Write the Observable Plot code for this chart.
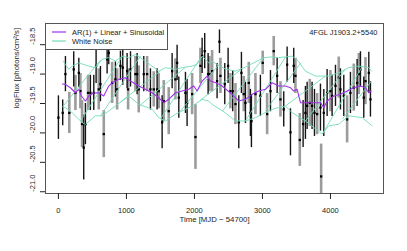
<!DOCTYPE html>
<html><head><meta charset="utf-8">
<script src="https://cdn.jsdelivr.net/npm/d3@7"></script>
<script src="https://cdn.jsdelivr.net/npm/@observablehq/plot@0.6"></script>
<style>html,body{margin:0;padding:0;background:#fff} svg{display:block}</style>
</head><body><div id="chart"></div>
<script>
// ---- data ----
const sourceName = "4FGL J1903.2+5540";
const seriesNames = ["AR(1) + Linear + Sinusoidal", "White Noise"];
const xTicks = [0, 1000, 2000, 3000, 4000];
const yTicks = [-21.0, -20.5, -20.0, -19.5, -19.0, -18.5];

const pointT = [0,63,103,160,225,250,300,323,348,372,397,436,470,520,554,593,618,667,716,740,790,838,863,912,946,1010,1025,1060,1132,1157,1181,1255,1304,1353,1402,1451,1475,1525,1549,1622,1672,1720,1745,1770,1868,1892,1966,2015,2088,2113,2151,2201,2221,2260,2333,2368,2382,2446,2495,2529,2563,2603,2652,2691,2725,2750,2799,2823,2838,2897,2970,3004,3069,3118,3166,3216,3265,3313,3363,3412,3460,3485,3549,3598,3632,3657,3696,3730,3765,3804,3853,3863,3902,3951,4000,4024,4074,4122,4147,4196,4245,4294,4343,4392,4417,4441,4490,4515,4564,4588];
const pointV = [-19.74,-19.66,-19.0,-19.66,-18.92,-19.32,-18.98,-19.29,-19.85,-20.25,-19.85,-19.32,-19.32,-19.32,-18.86,-19.26,-19.17,-20.02,-18.75,-18.64,-19.15,-19.09,-19.26,-18.86,-18.89,-18.95,-19.26,-18.92,-19.0,-19.0,-19.26,-19.0,-19.0,-19.26,-19.26,-19.26,-19.29,-19.82,-19.46,-19.63,-18.95,-19.09,-18.81,-19.4,-19.32,-19.49,-19.34,-20.07,-18.86,-18.69,-18.61,-19.0,-19.0,-18.95,-19.12,-18.45,-19.03,-19.17,-18.86,-19.29,-19.29,-19.51,-19.82,-18.98,-19.34,-19.49,-19.15,-19.66,-19.8,-19.34,-19.37,-18.81,-19.68,-19.29,-18.61,-19.03,-19.43,-19.6,-18.84,-19.99,-18.86,-19.03,-20.12,-19.85,-19.66,-19.54,-19.49,-19.54,-19.66,-19.68,-19.57,-20.74,-19.66,-19.32,-19.29,-19.37,-19.2,-19.06,-19.26,-19.37,-19.77,-19.32,-19.23,-19.15,-19.0,-18.92,-19.4,-19.12,-18.98,-19.43];
const pointErr = [0.37,0.22,0.3,0.35,0.3,0.3,0.25,0.3,0.4,0.55,0.35,0.3,0.3,0.3,0.3,0.35,0.3,0.4,0.25,0.2,0.35,0.3,0.35,0.25,0.3,0.3,0.35,0.3,0.3,0.35,0.4,0.3,0.3,0.35,0.3,0.35,0.3,0.45,0.35,0.4,0.3,0.35,0.3,0.35,0.35,0.4,0.35,0.55,0.3,0.3,0.3,0.35,0.3,0.35,0.3,0.2,0.3,0.35,0.3,0.3,0.35,0.35,0.45,0.35,0.3,0.35,0.35,0.4,0.45,0.35,0.35,0.2,0.35,0.35,0.25,0.3,0.3,0.3,0.3,0.4,0.3,0.3,0.45,0.4,0.45,0.4,0.4,0.4,0.4,0.35,0.4,0.55,0.4,0.4,0.35,0.35,0.35,0.35,0.35,0.35,0.4,0.35,0.4,0.4,0.35,0.3,0.35,0.4,0.35,0.3];
const barKind = ["b","b","b","g","b","g","b","g","g","b","b","g","b","b","b","g","b","g","b","b","g","b","g","b","b","b","g","b","g","b","g","b","g","b","g","b","g","b","g","g","b","g","b","b","b","b","g","g","g","b","b","b","g","g","b","b","g","b","b","g","b","g","b","b","g","b","g","b","b","g","b","g","g","b","g","b","g","b","b","b","b","g","g","b","b","b","g","b","b","g","b","g","b","b","g","b","b","g","b","b","g","b","g","b","g","b","b","g","b","b"];

const modelT = [59,103,176,250,299,338,397,446,515,593,666,740,790,887,985,1059,1181,1279,1378,1475,1549,1622,1721,1819,1916,1990,2040,2113,2187,2235,2324,2407,2554,2652,2750,2849,2946,3044,3143,3240,3338,3412,3460,3510,3559,3657,3755,3853,3902,3951,4049,4147,4245,4343,4441,4515,4563,4598];
const modelV = [-19.169,-19.175,-19.232,-19.317,-19.259,-19.373,-19.458,-19.373,-19.322,-19.317,-19.373,-19.203,-19.147,-19.09,-19.063,-19.119,-19.203,-19.259,-19.317,-19.402,-19.486,-19.429,-19.317,-19.288,-19.259,-19.203,-19.288,-19.119,-19.034,-19.119,-19.153,-19.203,-19.344,-19.458,-19.429,-19.344,-19.288,-19.259,-19.147,-19.203,-19.203,-19.232,-19.288,-19.259,-19.486,-19.486,-19.486,-19.486,-19.571,-19.458,-19.373,-19.344,-19.288,-19.232,-19.203,-19.232,-19.317,-19.288];

const noiseUpperT = [73,103,151,201,299,446,544,643,740,838,937,1034,1132,1279,1475,1574,1721,1819,1966,2040,2113,2210,2260,2334,2456,2603,2750,2824,3019,3118,3240,3437,3529,3632,3779,3975,4122,4269,4416,4563,4603];
const noiseUpperV = [-18.78,-18.836,-18.92,-18.864,-18.81,-18.864,-18.893,-18.75,-18.72,-18.78,-18.695,-18.72,-18.666,-18.78,-18.95,-18.89,-18.92,-18.89,-18.864,-18.836,-18.695,-18.81,-18.78,-18.836,-18.915,-18.95,-18.88,-18.836,-18.72,-18.71,-18.72,-18.695,-18.78,-18.95,-19.034,-19.034,-18.98,-18.89,-18.864,-18.89,-18.95];
const noiseLowerT = [73,103,206,349,397,544,643,740,937,1034,1181,1378,1475,1574,1721,1966,2113,2210,2260,2456,2603,2750,2897,3143,3338,3437,3632,3878,3975,4122,4269,4466,4613];
const noiseLowerV = [-19.56,-19.571,-19.66,-19.825,-19.853,-19.71,-19.71,-19.627,-19.458,-19.373,-19.514,-19.598,-19.74,-19.797,-19.683,-19.542,-19.43,-19.458,-19.514,-19.66,-19.797,-19.797,-19.74,-19.598,-19.542,-19.656,-19.797,-20.02,-19.88,-19.853,-19.71,-19.74,-19.88];
const noiseDiagT1 = [59,324,618,912,1206,1500,1794,2088,2412,2750,3044,3338,3632,3882,4176];
const noiseDiagV1 = [-19.559,-19.797,-19.712,-19.475,-19.525,-19.763,-19.627,-19.441,-19.627,-19.797,-19.627,-19.542,-19.797,-20.017,-19.763];
const noiseDiagT2 = [618,941,1206,1500,1868,2088,2353,2676,3000,3338,3559,3926,4221,4471,4603];
const noiseDiagV2 = [-18.763,-18.695,-18.695,-18.949,-18.881,-18.729,-18.847,-18.932,-18.746,-18.712,-18.814,-19.034,-18.915,-18.864,-19.119];

// ---- tables built from the arrays ----
const pts = pointT.map((t, i) => ({t, v: pointV[i], lo: pointV[i] - pointErr[i], hi: pointV[i] + pointErr[i], kind: barKind[i]}));
const model = modelT.map((t, i) => ({t, v: modelV[i]}));
const upper = noiseUpperT.map((t, i) => ({t, v: noiseUpperV[i]}));
const lower = noiseLowerT.map((t, i) => ({t, v: noiseLowerV[i]}));
const diag = noiseDiagT1.map((t, i) => ({t1: t, v1: noiseDiagV1[i], t2: noiseDiagT2[i], v2: noiseDiagV2[i]}));

const purple = "#a032ea";
const green = "#72dcb6";

const chart = Plot.plot({
  width: 407, height: 251,
  marginLeft: 45, marginRight: 24, marginTop: 23, marginBottom: 58,
  style: {fontFamily: "'Liberation Sans', Arial, sans-serif", fontSize: "7.5px", background: "white", color: "#222"},
  x: {domain: [-190, 4780]},
  y: {domain: [-21.03, -18.14]},
  marks: [
    Plot.ruleX(pts.filter(d => d.kind === "g"), {x: "t", y1: "lo", y2: "hi", stroke: "#9c9c9c", strokeWidth: 2.6, clip: true}),
    Plot.ruleX(pts.filter(d => d.kind === "b"), {x: "t", y1: "lo", y2: "hi", stroke: "#151515", strokeWidth: 1.4, clip: true}),
    Plot.dot(pts, {x: "t", y: "v", symbol: "square", r: 1.3, fill: "#000", stroke: null}),
    Plot.line(upper, {x: "t", y: "v", stroke: green, strokeWidth: 0.9}),
    Plot.line(lower, {x: "t", y: "v", stroke: green, strokeWidth: 0.9}),
    Plot.link(diag, {x1: "t1", y1: "v1", x2: "t2", y2: "v2", stroke: green, strokeWidth: 0.9}),
    Plot.line(model, {x: "t", y: "v", stroke: purple, strokeWidth: 1.1}),
    Plot.frame({stroke: "#555"}),
    Plot.axisX({ticks: xTicks, tickSize: 6, tickPadding: 8, label: null, tickFormat: d => String(d)}),
    Plot.axisY({ticks: yTicks, tickSize: 5, label: null, tickFormat: () => ""}),
    Plot.text(yTicks, {y: d => d, frameAnchor: "left", dx: -13, rotate: -90, text: d => d.toFixed(1)}),
    Plot.text(["Time [MJD − 54700]"], {frameAnchor: "bottom", dy: 28, text: d => d, fontSize: 7.8}),
    Plot.text(["logFlux [photons/cm²/s]"], {frameAnchor: "left", dx: -29, rotate: -90, text: d => d, fontSize: 7.8}),
    Plot.text([sourceName], {frameAnchor: "top-right", dx: -6, dy: 6, textAnchor: "end", text: d => d, fontSize: 7.5})
  ]
});
document.getElementById("chart").appendChild(chart);

// legend (inside the plot, top-left)
const svg = d3.select(chart);
const lg = svg.append("g").attr("font-family", "'Liberation Sans', Arial, sans-serif").attr("font-size", 7.5).attr("text-anchor", "start");
lg.append("rect").attr("x", 45.5).attr("y", 23.5).attr("width", 122).attr("height", 26).attr("fill", "white").attr("stroke", "#555");
const legendColors = [purple, green];
seriesNames.forEach((name, i) => {
  const yy = 32 + i * 9;
  lg.append("line").attr("x1", 52).attr("x2", 66).attr("y1", yy).attr("y2", yy).attr("stroke", legendColors[i]).attr("stroke-width", 1.2);
  lg.append("text").attr("x", 72).attr("y", yy).attr("dy", "0.35em").attr("text-anchor", "start").attr("fill", "#222").text(name);
});
</script>
</body></html>
